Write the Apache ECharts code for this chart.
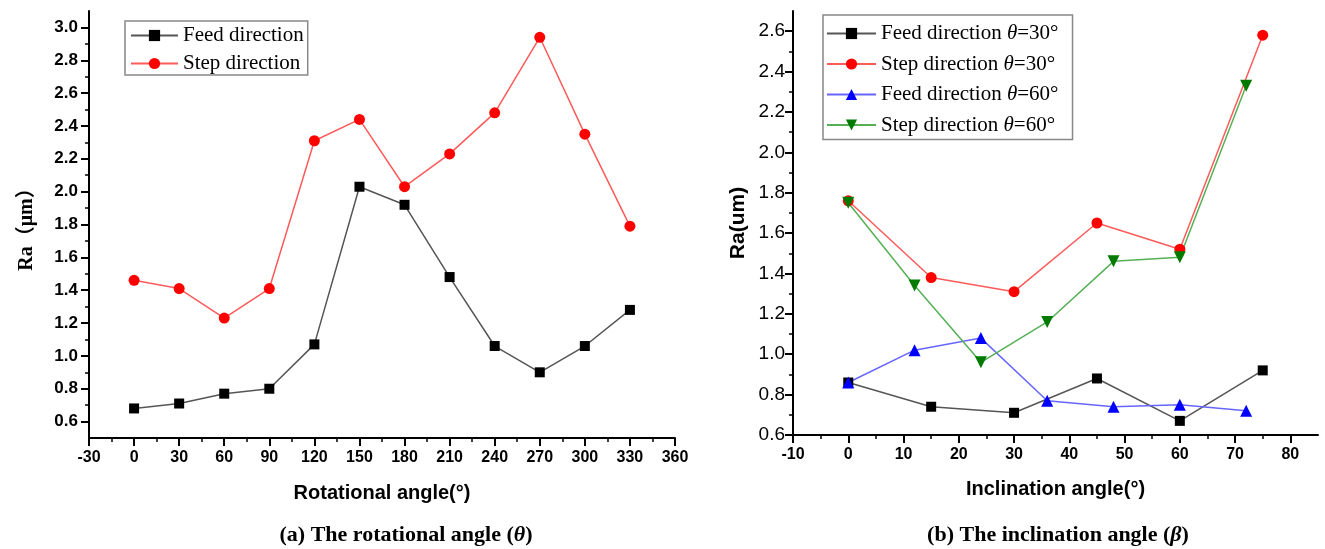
<!DOCTYPE html>
<html>
<head>
<meta charset="utf-8">
<title>Ra vs angle</title>
<script src="https://cdn.jsdelivr.net/npm/echarts@6/dist/echarts.min.js"></script>
<style>
  html, body { margin: 0; padding: 0; background: #fff; }
  #main { width: 1325px; height: 549px; }
</style>
</head>
<body>
<div id="main"></div>
<script>
// (a) rotational angle
var rotAngles = [0, 30, 60, 90, 120, 150, 180, 210, 240, 270, 300, 330];
var rotFeed = [0.68, 0.71, 0.77, 0.80, 1.07, 2.03, 1.92, 1.48, 1.06, 0.90, 1.06, 1.28];
var rotStep = [1.46, 1.41, 1.23, 1.41, 2.31, 2.44, 2.03, 2.23, 2.48, 2.94, 2.35, 1.79];

// (b) inclination angle
var incl30 = [0, 15, 30, 45, 60, 75];
var feed30 = [0.86, 0.74, 0.71, 0.88, 0.67, 0.92];
var step30 = [1.76, 1.38, 1.31, 1.65, 1.52, 2.58];
var incl60 = [0, 12, 24, 36, 48, 60, 72];
var feed60 = [0.86, 1.02, 1.08, 0.77, 0.74, 0.75, 0.72];
var step60 = [1.75, 1.34, 0.96, 1.16, 1.46, 1.48, 2.33];

// tick values
var rotXTicks = [-30, 0, 30, 60, 90, 120, 150, 180, 210, 240, 270, 300, 330, 360];
var rotXMinor = [-15, 15, 45, 75, 105, 135, 165, 195, 225, 255, 285, 315, 345];
var rotYTicks = [0.6, 0.8, 1.0, 1.2, 1.4, 1.6, 1.8, 2.0, 2.2, 2.4, 2.6, 2.8, 3.0];
var rotYMinor = [0.7, 0.9, 1.1, 1.3, 1.5, 1.7, 1.9, 2.1, 2.3, 2.5, 2.7, 2.9];
var inclXTicks = [-10, 0, 10, 20, 30, 40, 50, 60, 70, 80];
var inclXMinor = [-5, 5, 15, 25, 35, 45, 55, 65, 75];
var inclYTicks = [0.6, 0.8, 1.0, 1.2, 1.4, 1.6, 1.8, 2.0, 2.2, 2.4, 2.6];
var inclYMinor = [0.7, 0.9, 1.1, 1.3, 1.5, 1.7, 1.9, 2.1, 2.3, 2.5];

function zip(xs, ys) {
    var out = [];
    for (var i = 0; i < xs.length; i++) out.push([xs[i], ys[i]]);
    return out;
}

var serif = '"Liberation Serif", "Times New Roman", serif';
var sans = '"Liberation Sans", Arial, sans-serif';

function mainAxis(gridIndex, pos, min, max, ticks, labelStyle, name, nameGap, nameStyle) {
    return {
        type: 'value', gridIndex: gridIndex, position: pos, min: min, max: max,
        name: name, nameLocation: 'middle', nameGap: nameGap, nameTextStyle: nameStyle,
        axisLine: { show: true, onZero: false, lineStyle: { color: '#000', width: 2 } },
        axisTick: { show: true, inside: false, length: 8, customValues: ticks, lineStyle: { color: '#000', width: 2 } },
        axisLabel: Object.assign({ customValues: ticks, formatter: function (v) {
            return labelStyle.decimal ? v.toFixed(1) : String(v);
        } }, labelStyle.style),
        splitLine: { show: false }
    };
}

// second axis on the same grid, only for the short minor ticks
function minorAxis(gridIndex, pos, min, max, ticks) {
    return {
        type: 'value', gridIndex: gridIndex, position: pos, min: min, max: max,
        axisLine: { show: false, onZero: false },
        axisTick: { show: true, inside: false, length: 4, customValues: ticks, lineStyle: { color: '#000', width: 1.5 } },
        axisLabel: { show: false },
        splitLine: { show: false }
    };
}

var boldTick = { decimal: false, style: { color: '#000', fontFamily: sans, fontWeight: 'bold', fontSize: 16, margin: 12 } };
var boldTickY = { decimal: true, style: { color: '#000', fontFamily: sans, fontWeight: 'bold', fontSize: 17, margin: 11 } };
var plainTickY = { decimal: true, style: { color: '#000', fontFamily: sans, fontSize: 19, margin: 8 } };

var axisTitle = { color: '#000', fontFamily: sans, fontWeight: 'bold', fontSize: 20 };

var legendRich = {
    n: { fontFamily: serif, fontSize: 21, color: '#000' },
    i: { fontFamily: serif, fontSize: 21, fontStyle: 'italic', color: '#000' }
};
function legendFmt(name) {
    var k = name.indexOf('θ');
    if (k < 0) return '{n|' + name + '}';
    return '{n|' + name.slice(0, k) + '}{i|θ}{n|' + name.slice(k + 1) + '}';
}

function lineSeries(name, xi, yi, data, symbol, size, color, lineColor, rotate) {
    return {
        name: name, type: 'line', xAxisIndex: xi, yAxisIndex: yi, data: data,
        symbol: symbol, symbolSize: size, symbolRotate: rotate || 0, showAllSymbol: true,
        itemStyle: { color: color, opacity: 1 },
        lineStyle: { color: lineColor, width: 1.5 },
        emphasis: { disabled: true },
        animation: false
    };
}

var dom = document.getElementById('main');
var myChart = echarts.init(dom, null, { renderer: 'canvas' });

var option = {
    backgroundColor: '#fff',
    animation: false,
    grid: [
        { left: 89, top: 11, width: 586, height: 427 },
        { left: 793, top: 11, width: 525, height: 424 }
    ],
    title: [
        {
            text: '{b|(a) The rotational angle (}{i|θ}{b|)}',
            left: 401, top: 519, textAlign: 'center',
            textStyle: { rich: {
                b: { fontFamily: serif, fontWeight: 'bold', fontSize: 22, color: '#000' },
                i: { fontFamily: serif, fontWeight: 'bold', fontStyle: 'italic', fontSize: 22, color: '#000' }
            } }
        },
        {
            text: '{b|(b) The inclination angle (}{i|β}{b|)}',
            left: 1053, top: 519, textAlign: 'center',
            textStyle: { rich: {
                b: { fontFamily: serif, fontWeight: 'bold', fontSize: 22, color: '#000' },
                i: { fontFamily: serif, fontWeight: 'bold', fontStyle: 'italic', fontSize: 22, color: '#000' }
            } }
        }
    ],
    legend: [
        {
            data: ['Feed direction', 'Step direction'],
            left: 125, top: 21, orient: 'vertical',
            itemWidth: 47, itemHeight: 14, itemGap: 7,
            padding: [4, 4, 1, 5],
            borderColor: '#888', borderWidth: 1.5,
            formatter: legendFmt,
            textStyle: { rich: legendRich },
            selectedMode: false
        },
        {
            data: ['Feed direction θ=30°', 'Step direction θ=30°', 'Feed direction θ=60°', 'Step direction θ=60°'],
            left: 823, top: 15, orient: 'vertical',
            itemWidth: 49, itemHeight: 14, itemGap: 9.5,
            padding: [8, 14, 4, 3],
            borderColor: '#888', borderWidth: 1.5,
            formatter: legendFmt,
            textStyle: { rich: legendRich },
            selectedMode: false
        }
    ],
    xAxis: [
        mainAxis(0, 'bottom', -30, 360, rotXTicks, boldTick, 'Rotational angle(°)', 45, axisTitle),
        minorAxis(0, 'bottom', -30, 360, rotXMinor),
        mainAxis(1, 'bottom', -10, 85, inclXTicks, boldTick, 'Inclination angle(°)', 44, axisTitle),
        minorAxis(1, 'bottom', -10, 85, inclXMinor)
    ],
    yAxis: [
        mainAxis(0, 'left', 0.5, 3.1, rotYTicks, boldTickY, 'Ra（μm）', 52,
            { color: '#000', fontFamily: '"Liberation Serif", "Noto Sans CJK SC", serif', fontWeight: 'bold', fontSize: 20 }),
        minorAxis(0, 'left', 0.5, 3.1, rotYMinor),
        mainAxis(1, 'left', 0.6, 2.7, inclYTicks, plainTickY, 'Ra(um)', 44,
            { color: '#000', fontFamily: sans, fontWeight: 'bold', fontSize: 21 }),
        minorAxis(1, 'left', 0.6, 2.7, inclYMinor)
    ],
    series: [
        lineSeries('Feed direction', 0, 0, zip(rotAngles, rotFeed), 'rect', 10, '#000', '#555'),
        lineSeries('Step direction', 0, 0, zip(rotAngles, rotStep), 'circle', 11, '#ff0000', '#ff5a5a'),
        lineSeries('Feed direction θ=30°', 2, 2, zip(incl30, feed30), 'rect', 10, '#000', '#555'),
        lineSeries('Step direction θ=30°', 2, 2, zip(incl30, step30), 'circle', 11, '#ff0000', '#ff5a5a'),
        lineSeries('Feed direction θ=60°', 2, 2, zip(incl60, feed60), 'triangle', 12, '#0000ff', '#6666ff'),
        lineSeries('Step direction θ=60°', 2, 2, zip(incl60, step60), 'triangle', 12, '#007a00', '#55b055', 180)
    ]
};

myChart.setOption(option);
</script>
</body>
</html>
